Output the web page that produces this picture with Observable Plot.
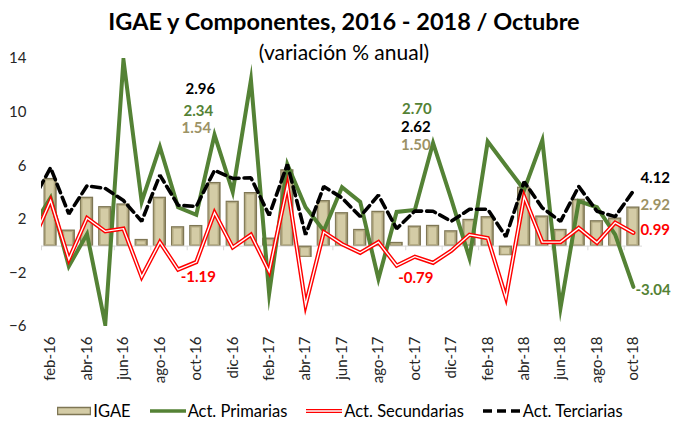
<!DOCTYPE html>
<html><head><meta charset="utf-8">
<script src="https://cdn.jsdelivr.net/npm/d3@7"></script>
<script src="https://cdn.jsdelivr.net/npm/@observablehq/plot@0.6"></script>
<style>
body{margin:0;background:#fff;font-family:Lato,"Open Sans",sans-serif;}
#wrap{position:relative;width:676px;height:422px;overflow:hidden;background:#fff}
#chart{position:absolute;left:0;top:0}
#title{position:absolute;left:6px;width:676px;top:10px;text-align:center;font-weight:700;font-size:23.5px;line-height:1;color:#000;white-space:nowrap}
#sub{position:absolute;left:6px;width:676px;top:41px;text-align:center;font-size:21px;line-height:1;color:#000;white-space:nowrap}
#legend{position:absolute;left:0;width:680px;top:403px;display:flex;justify-content:center;align-items:center;font-size:16.5px;line-height:1;color:#000;white-space:nowrap}
.item{display:flex;align-items:center;margin:0 9.5px}
.item svg{margin-right:2px}
</style>
</head><body>
<div id="wrap">
  <div id="chart"></div>
  <div id="title">IGAE y Componentes, 2016 - 2018 / Octubre</div>
  <div id="sub">(variación % anual)</div>
  <div id="legend"></div>
</div>
<script>
// categories: feb-16 .. oct-18
const months = ["feb-16","mar-16","abr-16","may-16","jun-16","jul-16","ago-16","sep-16","oct-16","nov-16","dic-16",
  "ene-17","feb-17","mar-17","abr-17","may-17","jun-17","jul-17","ago-17","sep-17","oct-17","nov-17","dic-17",
  "ene-18","feb-18","mar-18","abr-18","may-18","jun-18","jul-18","ago-18","sep-18","oct-18"];
// line series start one month earlier (ene-16, clipped at the plot edge)
const lineMonths = ["ene-16", ...months];

const igae = [5.05,1.2,3.65,2.95,3.15,0.5,3.65,1.45,1.54,4.75,3.35,
  4.0,0.6,5.7,-0.85,3.4,2.5,1.25,2.6,0.28,1.50,1.55,1.15,
  2.0,2.2,-0.72,4.4,2.25,1.25,3.5,1.9,2.1,2.92];
const primarias = [1.4, 3.6,-1.5,0.9,-5.85,13.9,3.3,7.4,2.9,2.34,8.3,4.05,
  12.4,-3.55,6.1,2.9,1.15,4.4,3.3,-2.45,2.55,2.70,7.7,3.5,
  -0.9,7.8,6.0,4.2,7.9,-4.6,3.35,2.9,0.85,-3.04];
const secundarias = [0.3, 3.4,-1.0,2.1,1.1,1.3,-2.3,0.3,-1.75,-1.19,2.5,-0.1,
  0.85,-1.9,4.5,-4.4,1.05,0.15,-0.5,0.3,-1.45,-0.79,-1.25,-0.35,
  0.85,0.6,-3.85,3.7,0.3,0.3,1.35,0.25,1.75,0.99];
const terciarias = [3.35, 5.85,2.4,4.5,4.3,3.4,1.85,5.3,3.05,2.96,5.65,5.05,
  5.1,2.3,6.1,0.85,4.45,3.6,2.2,3.8,1.3,2.62,2.6,1.85,
  2.75,2.75,0.7,4.8,2.85,1.85,4.45,2.6,2.2,4.12];
const yTicks = [-6,-2,2,6,10,14];
const seriesNames = ["IGAE","Act. Primarias","Act. Secundarias","Act. Terciarias"];

const cGreen = "#548235", cRed = "#ff0000", cTan = "#9c9265", cBlack = "#000000";

const bars = months.map((m, i) => ({i, m, v: igae[i]}));
const asLine = arr => arr.map((v, k) => ({i: k - 1, m: lineMonths[k], v}));
const pData = asLine(primarias), sData = asLine(secundarias), tData = asLine(terciarias);
const labelIdx = months.map((m, i) => i).filter(i => i % 2 === 0);
const boundaries = labelIdx.map(i => i - 0.5);

// annotation helper: value taken from the series at month index i
function ann(i, arr, isLine, color, dx, dy, anchor = "middle") {
  const v = isLine ? arr[i + 1] : arr[i];
  return Plot.text([{i, v}], {x: "i", y: "v", text: d => d.v.toFixed(2), fill: color,
    fontWeight: "bold", fontSize: 15, dx, dy, textAnchor: anchor, lineAnchor: "middle"});
}
const iOct16 = months.indexOf("oct-16"), iOct17 = months.indexOf("oct-17"), iOct18 = months.indexOf("oct-18");

const chart = Plot.plot({
  width: 676, height: 395,
  marginLeft: 41, marginRight: 34, marginTop: 58, marginBottom: 69,
  x: {type: "linear", domain: [-0.5, months.length - 0.5], axis: null, label: null},
  y: {domain: [-6, 14], axis: null, label: null},
  style: {fontFamily: "Lato, 'Open Sans', sans-serif", fontSize: "15px", color: "#262626", background: "white"},
  marks: [
    Plot.axisY({ticks: yTicks, tickSize: 0, tickPadding: 15, fontSize: 15, label: null}),
    Plot.axisX({ticks: labelIdx, tickFormat: i => months[i], tickRotate: -90, tickSize: 0, tickPadding: 10, fontSize: 15, label: null}),
    Plot.ruleY([0], {stroke: "#d9d9d9", strokeWidth: 1}),
    Plot.ruleX(boundaries, {x: d => d, y1: 0, y2: -0.35, stroke: "#d9d9d9"}),
    Plot.rect(bars, {x1: d => d.i - 0.5, x2: d => d.i + 0.5, y1: 0, y2: "v", insetLeft: 2.5, insetRight: 2.5, fill: "#7e7654"}),
    Plot.rect(bars, {x1: d => d.i - 0.5, x2: d => d.i + 0.5, y1: 0, y2: "v", insetLeft: 3.5, insetRight: 4, insetTop: 1.2, insetBottom: 0.5, fill: "#b3aa82"}),
    Plot.rect(bars, {x1: d => d.i - 0.5, x2: d => d.i + 0.5, y1: 0, y2: "v", insetLeft: 5, insetRight: 5.5, insetTop: 2.5, insetBottom: 1.5, fill: "#d4cca6"}),
    Plot.line(pData, {x: "i", y: "v", stroke: cGreen, strokeWidth: 4, clip: true, strokeLinejoin: "miter", strokeMiterlimit: 12}),
    Plot.line(sData, {x: "i", y: "v", stroke: cRed, strokeWidth: 4.2, clip: true, strokeLinejoin: "miter", strokeMiterlimit: 12}),
    Plot.line(sData, {x: "i", y: "v", stroke: "white", strokeWidth: 1.4, clip: true, strokeLinejoin: "miter", strokeMiterlimit: 12}),
    Plot.line(tData, {x: "i", y: "v", stroke: cBlack, strokeWidth: 3.6, strokeDasharray: "9,5", clip: true, strokeLinejoin: "miter"}),
    // annotations oct-16
    ann(iOct16, terciarias, true, cBlack, 4, -117),
    ann(iOct16, primarias, true, cGreen, 2, -104),
    ann(iOct16, igae, false, cTan, 0, -97),
    ann(iOct16, secundarias, true, cRed, 2, 15),
    // oct-17
    ann(iOct17, primarias, true, cGreen, 2, -101),
    ann(iOct17, terciarias, true, cBlack, 1, -84),
    ann(iOct17, igae, false, cTan, 1, -81),
    ann(iOct17, secundarias, true, cRed, 1, 22),
    // oct-18
    ann(iOct18, terciarias, true, cBlack, 7, -13, "start"),
    ann(iOct18, igae, false, cTan, 7, -2, "start"),
    ann(iOct18, secundarias, true, cRed, 7, -3, "start"),
    ann(iOct18, primarias, true, cGreen, 2, 3, "start")
  ]
});
document.getElementById("chart").appendChild(chart);

// legend
const sw = [
  `<svg width="34" height="10"><rect x="0.5" y="1.5" width="33" height="7" fill="#d4cca6" stroke="#7e7654" stroke-width="1.5"/></svg>`,
  `<svg width="36" height="10"><line x1="0" y1="5" x2="36" y2="5" stroke="${cGreen}" stroke-width="3.5"/></svg>`,
  `<svg width="36" height="10"><line x1="0" y1="5" x2="36" y2="5" stroke="${cRed}" stroke-width="4"/><line x1="0" y1="5" x2="36" y2="5" stroke="white" stroke-width="1.3"/></svg>`,
  `<svg width="38" height="10"><line x1="0" y1="5" x2="38" y2="5" stroke="#000" stroke-width="3.5" stroke-dasharray="9,5"/></svg>`
];
document.getElementById("legend").innerHTML = seriesNames.map((n, k) =>
  `<span class="item">${sw[k]}<span>${n}</span></span>`).join("");
</script>
</body></html>
